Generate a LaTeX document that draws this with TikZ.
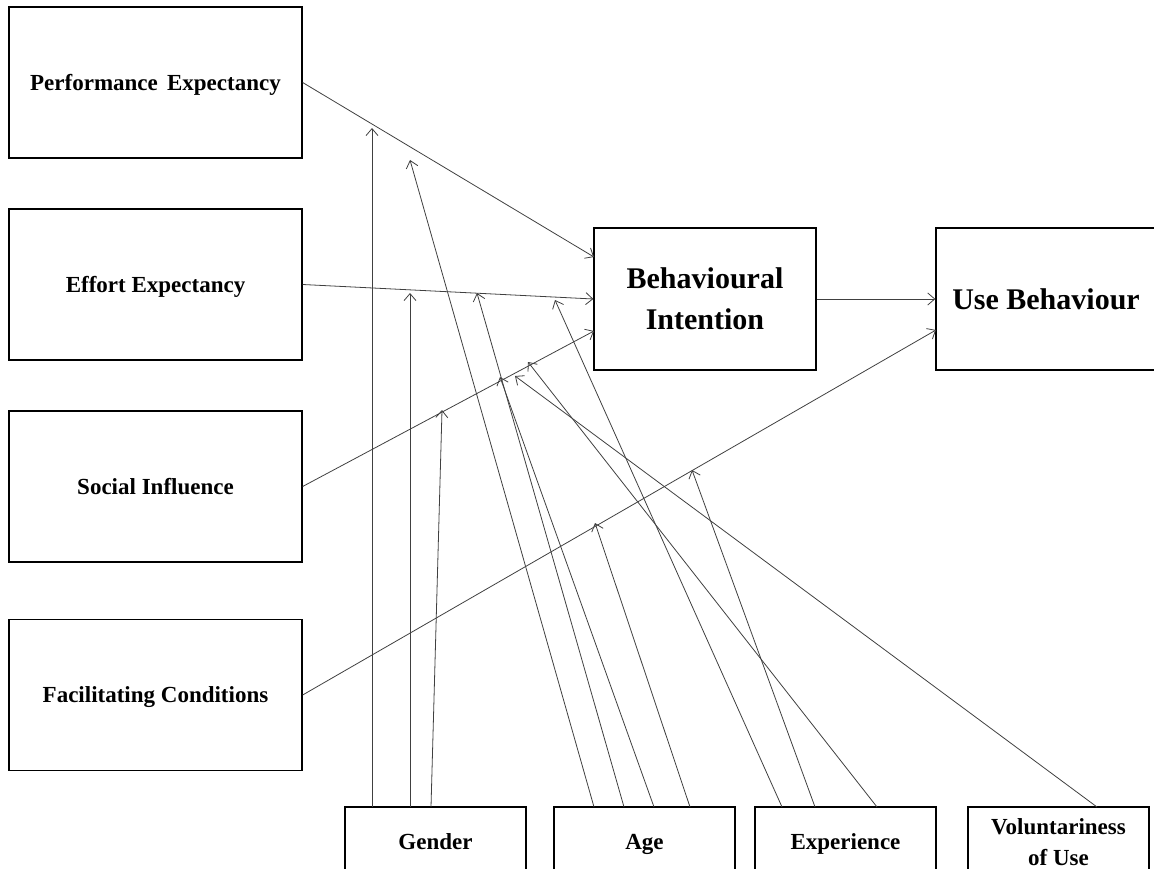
\documentclass[tikz,border=0pt]{standalone}
\usepackage{fontspec}
\setmainfont{Liberation Serif}
\usetikzlibrary{arrows.meta}
\begin{document}
\begin{tikzpicture}[x=1pt,y=-1pt,
  box/.style={draw=black, line width=1.3pt, rectangle, inner sep=0pt, align=center},
  capcentre/.style={text height=15.2pt, text depth=0pt},
  construct/.style={box, capcentre, minimum width=293pt, minimum height=151pt, font=\bfseries\fontsize{23}{27}\selectfont},
  outcome/.style={box, minimum height=142pt, font=\bfseries\fontsize{30}{41}\selectfont},
  moderator/.style={box, minimum width=181pt, minimum height=70pt, font=\bfseries\fontsize{23}{31}\selectfont},
  conn/.style={draw=black!75, line width=0.8pt, -{Straight Barb[length=7pt,width=12pt]}}
]
\useasboundingbox (0,0) rectangle (1154,869);

% Determinants
\node[construct] (pe) at (155.5,82.5)  {Performance\hspace{0.15em} Expectancy};
\node[construct] (ee) at (155.5,284.5) {Effort Expectancy};
\node[construct] (si) at (155.5,486.5) {Social Influence};
\node[construct] (fc) at (155.5,695)   {Facilitating Conditions};

% Outcomes
\node[outcome, minimum width=222pt] (bi) at (705,299)  {Behavioural\\Intention};
\node[outcome, minimum width=220pt] (ub) at (1046,299) {Use Behaviour};

% Moderators
\node[moderator, capcentre] (gen) at (435.5,842) {Gender};
\node[moderator, capcentre] (age) at (644.5,842) {Age};
\node[moderator, capcentre] (exp) at (845.5,842) {Experience};
\node[moderator] (vol) at (1058.5,842) {Voluntariness\\of Use};

% Entry points on the outcome boxes
\coordinate (bi1) at (594,257);
\coordinate (bi3) at (594,331);
\coordinate (ub2) at (936,330);

% Main paths
\draw[conn] (pe.east) -- (bi1);
\draw[conn] (ee.east) -- (bi.west);
\draw[conn] (si.east) -- (bi3);
\draw[conn] (fc.east) -- (ub2);
\draw[conn] (bi.east) -- (ub.west);

% Moderator start points on the box tops
\coordinate (g1) at (372,807);
\coordinate (g2) at (410,807);
\coordinate (g3) at (431,807);
\coordinate (a1) at (594,807);
\coordinate (a2) at (624,807);
\coordinate (a3) at (654,807);
\coordinate (a4) at (690,807);
\coordinate (e1) at (782,807);
\coordinate (e2) at (815,807);
\coordinate (e3) at (877,807);
\coordinate (v1) at (1097,807);

% Moderator targets on the main paths
\coordinate (tg1) at (372,128);
\coordinate (tg2) at (410,293);
\coordinate (tg3) at (442,410);
\coordinate (ta1) at (410,160);
\coordinate (ta2) at (477,293);
\coordinate (ta3) at (500,377);
\coordinate (ta4) at (595,523);
\coordinate (te1) at (555,300);
\coordinate (te2) at (692,470);
\coordinate (te3) at (528,362);
\coordinate (tv1) at (515,376);

% Moderating effects
\draw[conn] (g1) -- (tg1);
\draw[conn] (g2) -- (tg2);
\draw[conn] (g3) -- (tg3);
\draw[conn] (a1) -- (ta1);
\draw[conn] (a2) -- (ta2);
\draw[conn] (a3) -- (ta3);
\draw[conn] (a4) -- (ta4);
\draw[conn] (e1) -- (te1);
\draw[conn] (e2) -- (te2);
\draw[conn] (e3) -- (te3);
\draw[conn] (v1) -- (tv1);
\end{tikzpicture}
\end{document}
